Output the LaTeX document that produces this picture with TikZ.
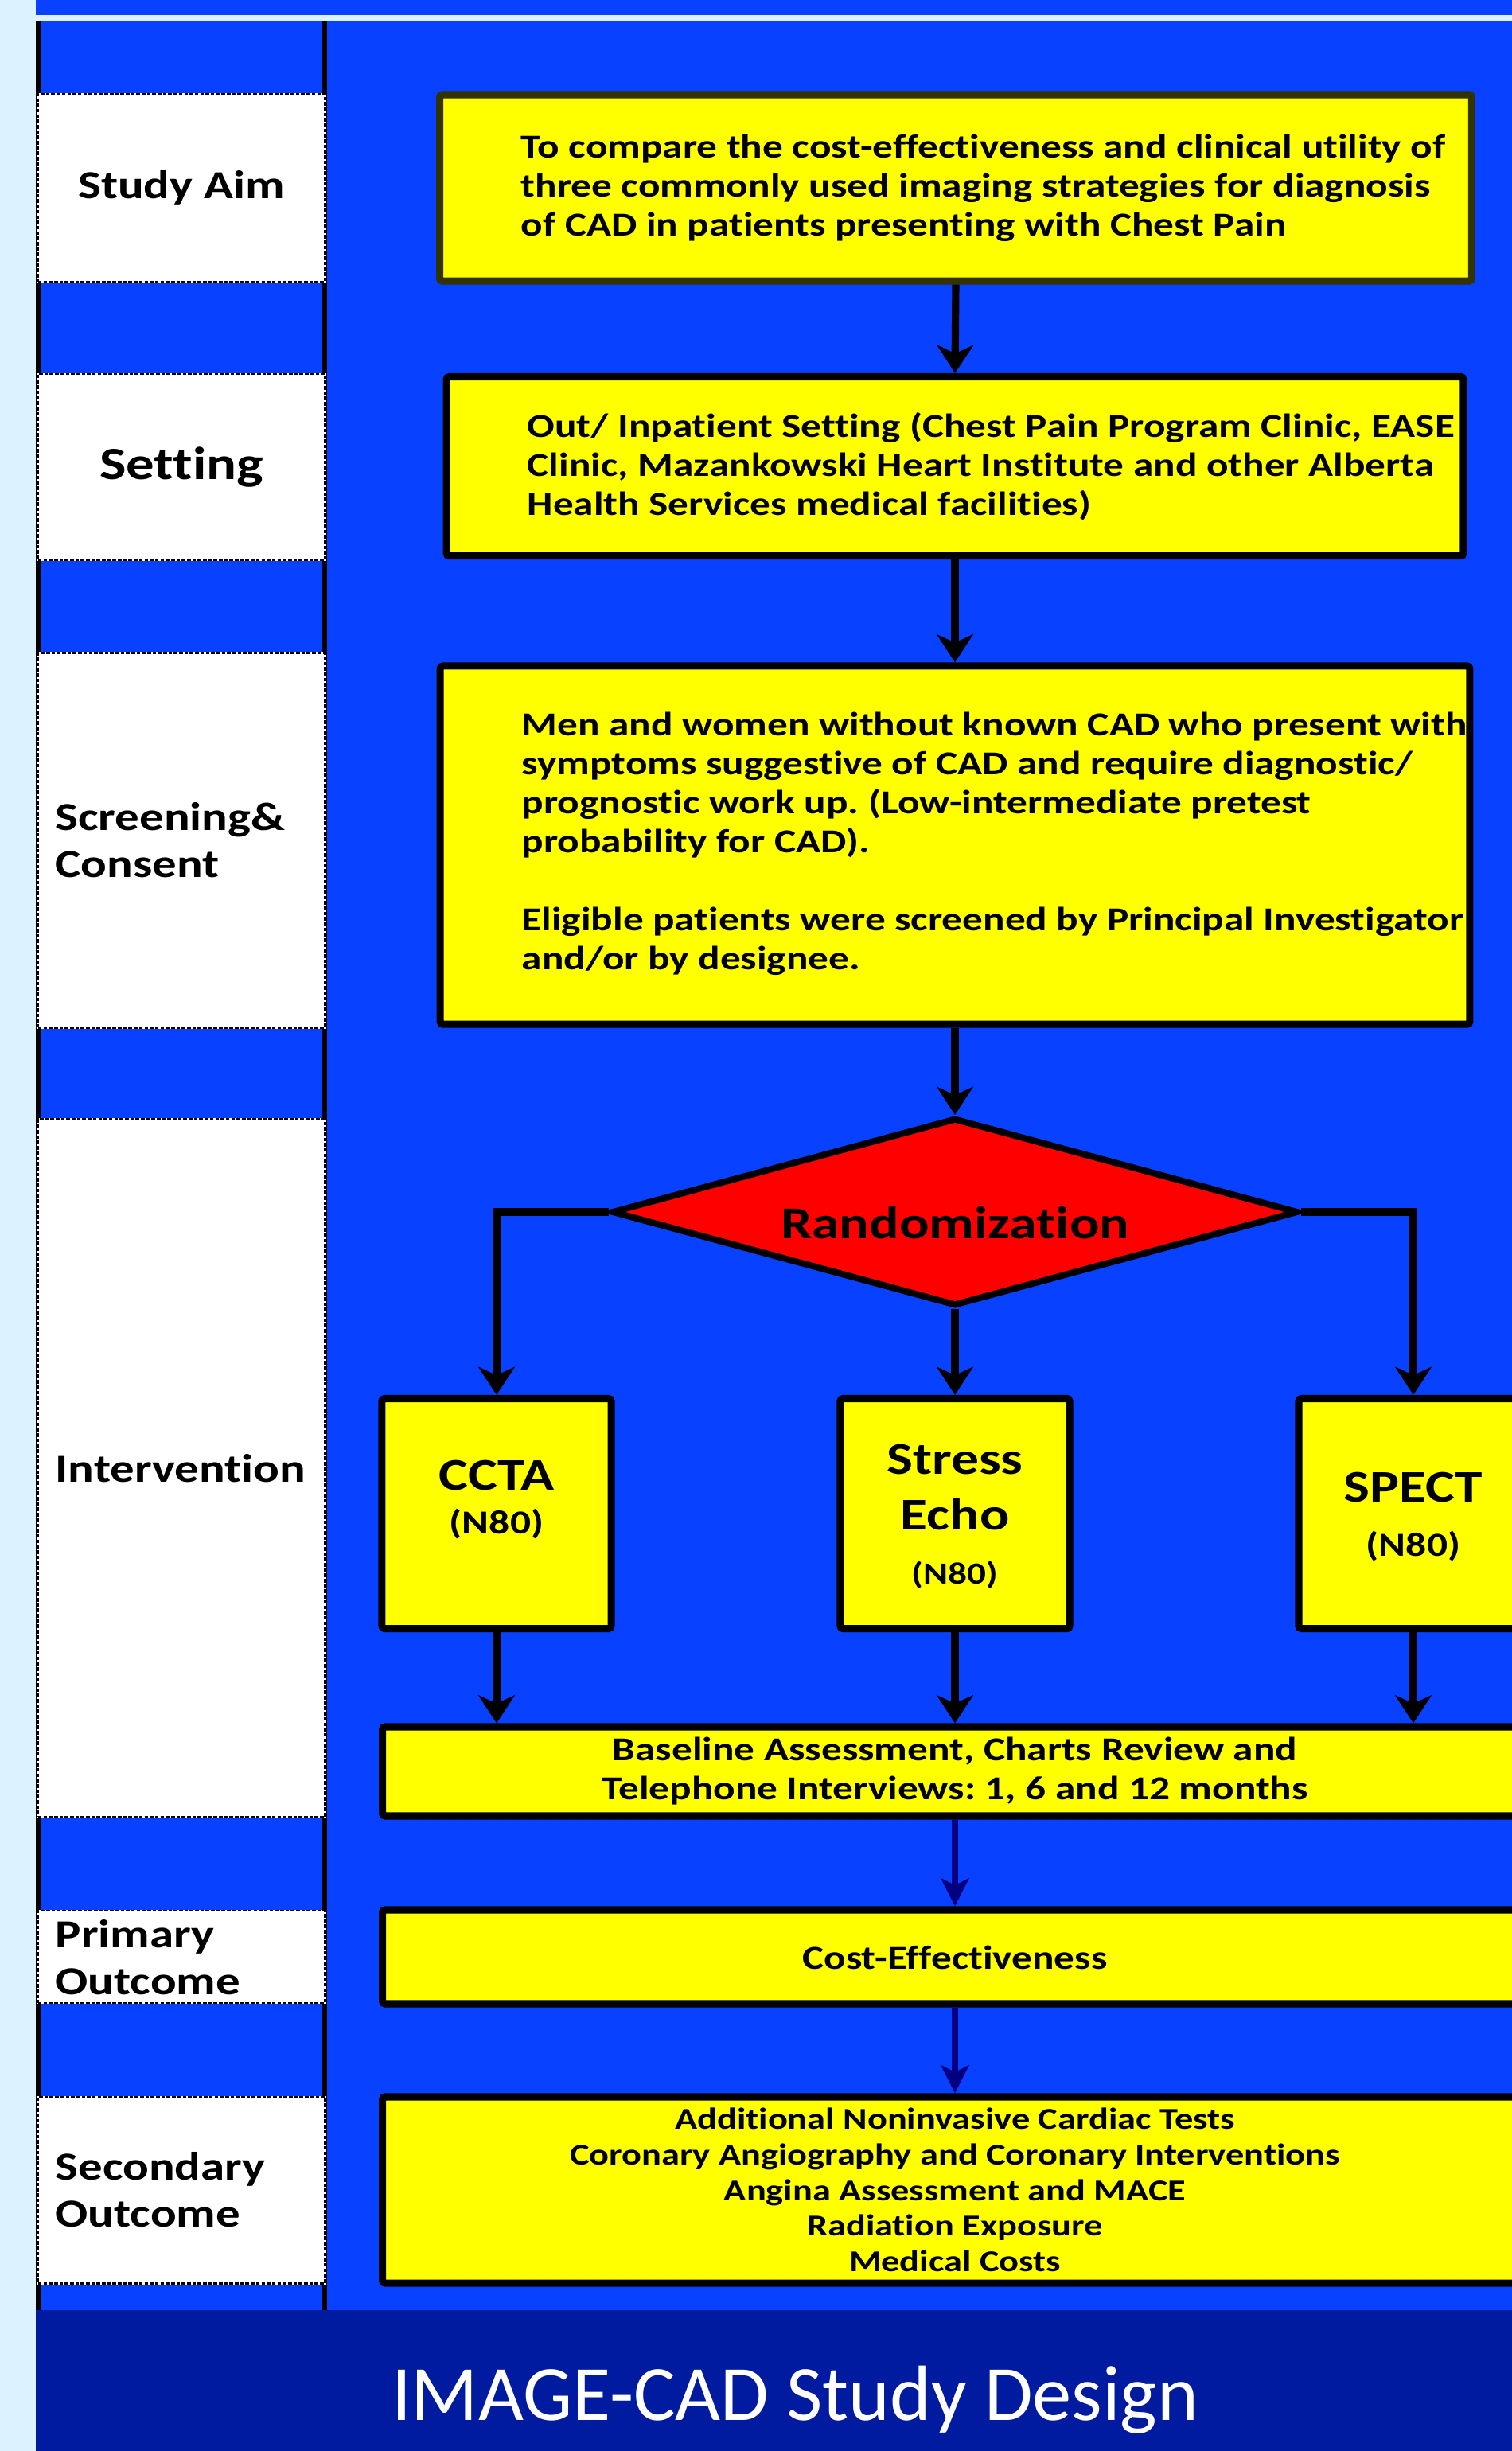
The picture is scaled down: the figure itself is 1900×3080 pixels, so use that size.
\documentclass[tikz,border=0pt]{standalone}
\usepackage{fontspec}
\setmainfont{Carlito}[Ligatures=NoCommon]
\newfontfamily\bx{Carlito}[FakeStretch=1.22, Ligatures=NoCommon]
\usetikzlibrary{shapes.geometric,arrows.meta}
\definecolor{lightbg}{HTML}{DDF2FF}
\definecolor{panel}{HTML}{0841FF}
\definecolor{titleband}{HTML}{001B9F}
\definecolor{navyarr}{HTML}{000080}
\definecolor{olivedark}{HTML}{333300}
\definecolor{boxyellow}{HTML}{FFFF00}
\frenchspacing
\begin{document}
\frenchspacing
\begin{tikzpicture}[x=0.01cm,y=-0.01cm,
  lab/.style={rectangle, fill=white, draw=white, line width=0.8pt, inner sep=0pt, outer sep=0pt,
    minimum width=3.6cm, postaction={draw=black, line width=0.8pt, dash pattern=on 1.3pt off 0.6pt}},
  labtext/.style={inner sep=0pt, align=left, font=\bx\bfseries\fontsize{14.2}{16.8}\selectfont},
  ybox/.style={rectangle, fill=boxyellow, draw=black, line width=2.6pt, rounded corners=1pt, inner sep=0pt},
  btext/.style={inner sep=0pt, align=left, font=\bx\bfseries\fontsize{11.95}{13.94}\selectfont},
  ctext/.style={inner sep=0pt, align=center, font=\bx\bfseries\fontsize{11.95}{13.94}\selectfont},
  armtext/.style={inner sep=0pt, anchor=base, font=\bx\bfseries\fontsize{16.2}{19.9}\selectfont},
  ntext/.style={inner sep=0pt, anchor=base, font=\bx\bfseries\fontsize{12}{14}\selectfont},
  arr/.style={draw=black, line width=2.6pt, -{Stealth[length=10pt,width=13pt,inset=3pt]}},
  navy/.style={draw=navyarr, line width=2.4pt, -{Stealth[length=10pt,width=10pt,inset=2.5pt]}}
]
\useasboundingbox (0,0) rectangle (1900,3080);
\clip (0,0) rectangle (1900,3080);
% backgrounds
\fill[lightbg] (0,0) rectangle (1900,3080);
\fill[panel] (45,0) rectangle (1900,19);
\fill[panel] (45,27) rectangle (1900,2903);
\fill[titleband] (45,2903) rectangle (1900,3080);
\draw[line width=1.7pt] (48,27) -- (48,2903);
\draw[line width=1.7pt] (408,27) -- (408,2903);

% left column labels
\node[lab, minimum height=2.36cm] (l1) at (228,236) {};
\node[lab, minimum height=2.34cm] (l2) at (228,587) {};
\node[lab, minimum height=4.70cm] (l3) at (228,1056) {};
\node[lab, minimum height=8.76cm] (l4) at (228,1845) {};
\node[lab, minimum height=1.16cm] (l5) at (228,2459) {};
\node[lab, minimum height=2.34cm] (l6) at (228,2752) {};

\node[labtext] (t1) at (228,236) {Study Aim};
\node[labtext, font=\bx\bfseries\fontsize{16.5}{19}\selectfont] (t2) at (228,587) {Setting};
\node[labtext, anchor=west] (t3) at (69,1056) {Screening\&\\Consent};
\node[labtext, anchor=west] (t4) at (69,1845) {Intervention};
\node[labtext, anchor=west] (t5) at (69,2460) {Primary\\Outcome};
\node[labtext, anchor=west] (t6) at (69,2752) {Secondary\\Outcome};

% flow boxes
\node[ybox, draw=olivedark, minimum width=12.96cm, minimum height=2.34cm] (aim) at (1201,236) {};
\node[btext, anchor=west] (aimtext) at (654,236) {To compare the cost-effectiveness and clinical utility of\\three commonly used imaging strategies for diagnosis\\of CAD in patients presenting with Chest Pain};

\node[ybox, minimum width=12.77cm, minimum height=2.25cm] (set) at (1200,586) {};
\node[btext, anchor=west] (settext) at (662,586) {Out/ Inpatient Setting (Chest Pain Program Clinic, EASE\\Clinic, Mazankowski Heart Institute and other Alberta\\Health Services medical facilities)};

\node[ybox, minimum width=12.93cm, minimum height=4.50cm] (scr) at (1200,1062) {};
\node[btext, anchor=west] (scrtext) at (655,1060) {Men and women without known CAD who present with\\symptoms suggestive of CAD and require diagnostic/\\prognostic work up. (Low-intermediate pretest\\probability for CAD).\\[13.94pt]Eligible patients were screened by Principal Investigator\\and/or by designee.};

\node[diamond, aspect=3.6, fill=red, draw=black, line width=2.3pt, inner sep=0pt,
  minimum width=8.62cm, minimum height=2.36cm] (rand) at (1200,1523) {};
\node[inner sep=0pt, font=\bx\bfseries\fontsize{16.3}{19}\selectfont] (randtext) at (1200,1537) {Randomization};

\node[ybox, minimum width=2.88cm, minimum height=2.89cm] (ccta) at (624,1902) {};
\node[ybox, minimum width=2.88cm, minimum height=2.89cm] (echo) at (1200,1902) {};
\node[ybox, minimum width=2.88cm, minimum height=2.89cm] (spect) at (1776,1902) {};
\node[armtext] (cctat) at (624,1872) {CCTA};
\node[ntext] (cctan) at (624,1927) {(N80)};
\node[armtext] (echot1) at (1200,1852) {Stress};
\node[armtext] (echot2) at (1200,1922) {Echo};
\node[ntext, font=\bx\bfseries\fontsize{11}{13}\selectfont] (echon) at (1200,1990) {(N80)};
\node[armtext] (spectt) at (1776,1887) {SPECT};
\node[ntext] (spectn) at (1776,1955) {(N80)};

\node[ybox, minimum width=14.38cm, minimum height=1.12cm] (base) at (1200,2226) {};
\node[ctext] (basetext) at (1200,2226) {Baseline Assessment, Charts Review and\\Telephone Interviews: 1, 6 and 12 months};

\node[ybox, minimum width=14.38cm, minimum height=1.18cm] (cost) at (1200,2459) {};
\node[ctext] (costtext) at (1200,2460) {Cost-Effectiveness};

\node[ybox, minimum width=14.38cm, minimum height=2.34cm] (sec) at (1200,2752) {};
\node[ctext, font=\bx\bfseries\fontsize{10.8}{12.72}\selectfont] (sectext) at (1200,2752) {Additional Noninvasive Cardiac Tests\\Coronary Angiography and Coronary Interventions\\Angina Assessment and MACE\\Radiation Exposure\\Medical Costs};

% connectors
\draw[arr] (aim.south) -- (set.north);
\draw[arr] (set.south) -- (scr.north);
\draw[arr] (scr.south) -- (rand.north);
\draw[arr] (rand.west) -| (ccta.north);
\draw[arr] (rand.east) -| (spect.north);
\draw[arr] (rand.south) -- (echo.north);
\draw[arr] (ccta.south) -- (ccta.south |- base.north);
\draw[arr] (echo.south) -- (base.north);
\draw[arr] (spect.south) -- (spect.south |- base.north);
\draw[navy] (base.south) -- (cost.north);
\draw[navy] (cost.south) -- (sec.north);

% title
\node[anchor=base, inner sep=0pt, text=white, font=\fontsize{28}{33}\selectfont] (title) at (999,3041) {IMAGE-CAD Study Design};
\end{tikzpicture}
\end{document}
